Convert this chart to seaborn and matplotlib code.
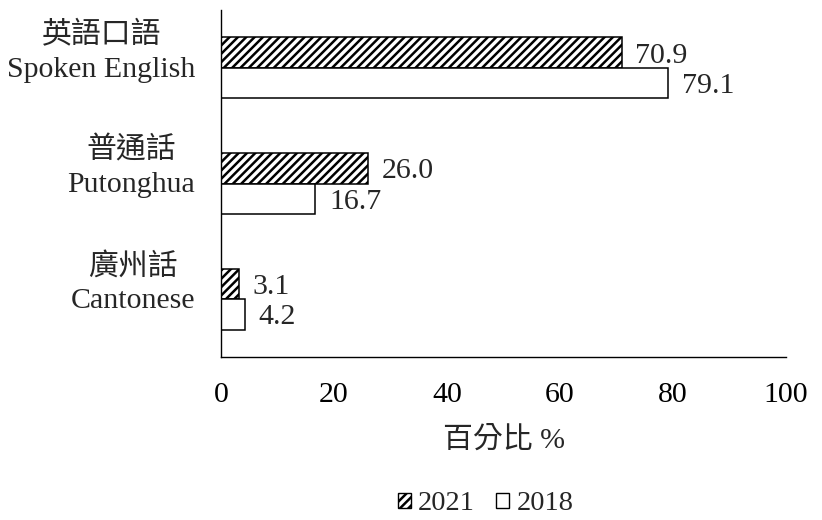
import matplotlib
matplotlib.use('Agg')
import matplotlib.pyplot as plt
from matplotlib.patches import Patch
import pandas as pd
import seaborn as sns

# Language of instruction shares (%)
languages_zh = ['英語口語', '普通話', '廣州話']
languages_en = ['Spoken English', 'Putonghua', 'Cantonese']
years = ['2021', '2018']
share_2021 = [70.9, 26.0, 3.1]
share_2018 = [79.1, 16.7, 4.2]
x_ticks = [0, 20, 40, 60, 80, 100]
x_label = '百分比 %'

sns.set_style('white')
plt.rcParams['font.family'] = ['Liberation Serif', 'Noto Sans CJK TC']
plt.rcParams['hatch.linewidth'] = 1.8
plt.rcParams['axes.unicode_minus'] = False

FS = 21.5
labels = [f'{zh}\n{en}' for zh, en in zip(languages_zh, languages_en)]
df = pd.DataFrame({
    'lang': labels * 2,
    'year': [years[0]] * 3 + [years[1]] * 3,
    'value': share_2021 + share_2018,
})

fig = plt.figure(figsize=(8.22, 5.2), dpi=100)
ax = fig.add_axes([221 / 822, 1 - 357 / 520, (786 - 221) / 822, (357 - 10) / 520])

sns.barplot(data=df, y='lang', x='value', hue='year', hue_order=years,
            order=labels, orient='h', width=0.525,
            palette=['white', 'white'], edgecolor='black', linewidth=1.1,
            saturation=1, legend=False, ax=ax)

# hatch the 2021 bars
for bar in ax.containers[0]:
    bar.set_hatch('////')

for cont, vals in zip(ax.containers, [share_2021, share_2018]):
    texts = ax.bar_label(cont, labels=[f'{v:.1f}' for v in vals], padding=10,
                         fontsize=FS)
    for t in texts:
        t.set_va('center_baseline')

ax.set_xlim(0, 100)
ax.set_ylim(2.5, -0.5)
ax.set_xticks(x_ticks)
ax.set_xticklabels([str(t) for t in x_ticks], fontsize=FS)
ax.set_xlabel(x_label, fontsize=FS, labelpad=13)
ax.set_ylabel('')

# two-line category labels: Chinese above, English level with the bar pair
ax.set_yticks(range(len(labels)))
ax.set_yticklabels([])
for i, lab in enumerate(labels):
    ax.annotate(lab, xy=(0, i), xycoords=ax.get_yaxis_transform(),
                xytext=(-18.5, 11.5), textcoords='offset points',
                ha='right', va='center', multialignment='center',
                linespacing=1.38, fontsize=FS, annotation_clip=False)

ax.tick_params(axis='y', length=0)
ax.tick_params(axis='x', direction='in', length=6.5, width=1.0, pad=18, colors='black')

for side in ['top', 'right']:
    ax.spines[side].set_visible(False)
for side in ['left', 'bottom']:
    ax.spines[side].set_color('black')
    ax.spines[side].set_linewidth(1.0)

LFS = 20.5
handles = [Patch(facecolor='white', edgecolor='black', hatch='////', linewidth=1.0, label=years[0]),
           Patch(facecolor='white', edgecolor='black', linewidth=1.0, label=years[1])]
fig.legend(handles=handles, loc='center', bbox_to_anchor=(485.5 / 822, 1 - 504 / 520),
           ncol=2, frameon=False, fontsize=LFS, handlelength=0.46, handleheight=0.46,
           handletextpad=0.25, columnspacing=0.75, borderpad=0)

fig.savefig('out.png', dpi=100)
